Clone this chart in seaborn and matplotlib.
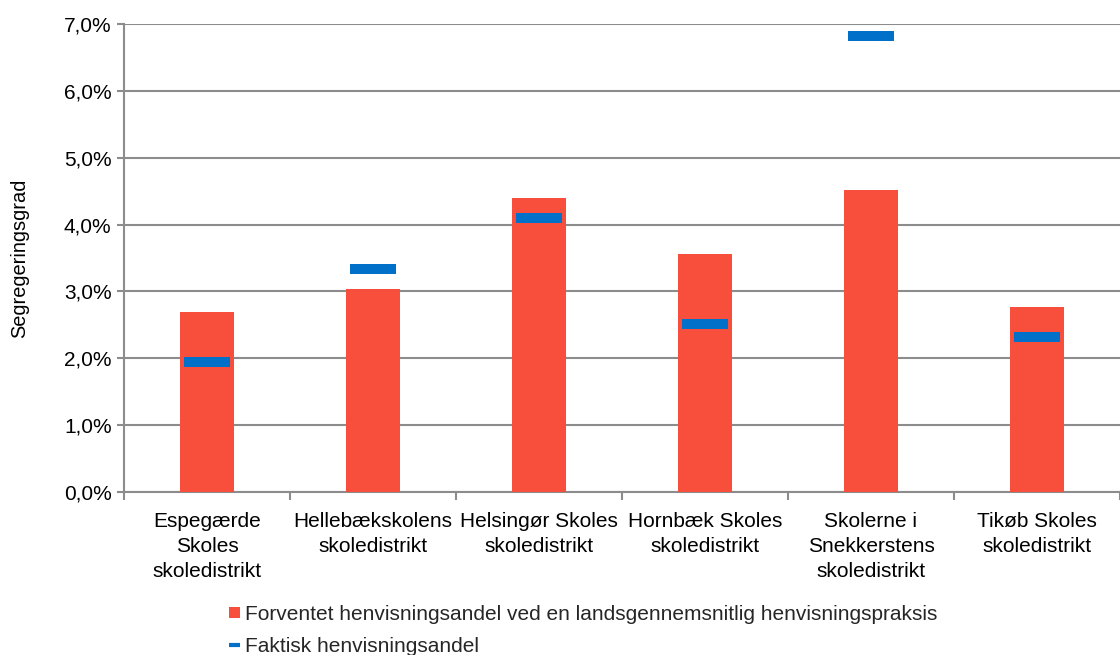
import matplotlib
matplotlib.use("Agg")
import matplotlib.pyplot as plt
import seaborn as sns
import pandas as pd
import numpy as np
from matplotlib.ticker import FuncFormatter, FixedLocator
from matplotlib.patches import Patch
from matplotlib.lines import Line2D

categories = [
    "Espegærde\nSkoles\nskoledistrikt",
    "Hellebækskolens\nskoledistrikt",
    "Helsingør Skoles\nskoledistrikt",
    "Hornbæk Skoles\nskoledistrikt",
    "Skolerne i\nSnekkerstens\nskoledistrikt",
    "Tikøb Skoles\nskoledistrikt",
]
forventet = [2.69, 3.04, 4.39, 3.56, 4.52, 2.77]
faktisk = [1.94, 3.34, 4.10, 2.52, 6.82, 2.32]
series_names = [
    "Forventet henvisningsandel ved en landsgennemsnitlig henvisningspraksis",
    "Faktisk henvisningsandel",
]

sns.set_theme(style="white")
plt.rcParams["font.family"] = ["Liberation Sans", "DejaVu Sans"]

df = pd.DataFrame({"cat": categories, "forventet": forventet, "faktisk": faktisk})

fig = plt.figure(figsize=(11.2, 6.55), dpi=100)
ax = fig.add_axes([124 / 1120, 1 - 492 / 655, 996 / 1120, 468 / 655])

red = "#F84E3C"
blue = "#0070C8"
grid_c = "#8C8C8C"
fs = 15

sns.barplot(data=df, x="cat", y="forventet", color=red, width=0.32,
            saturation=1, ax=ax, zorder=3, edgecolor="none")

verts = [(-0.5, -0.107), (0.5, -0.107), (0.5, 0.107), (-0.5, 0.107)]
sns.scatterplot(data=df, x="cat", y="faktisk", marker=verts, s=1144,
                color=blue, linewidth=0, ax=ax, zorder=4)

ax.set_ylim(0, 7)
ax.set_xlim(-0.5, 5.5)
ax.yaxis.set_major_locator(FixedLocator(np.arange(0, 7.01, 1)))
ax.yaxis.set_major_formatter(FuncFormatter(lambda v, p: f"{v:.1f}%".replace(".", ",")))
ax.grid(axis="y", color=grid_c, linewidth=1.5, zorder=0)
ax.set_axisbelow(True)

for s in ["top", "right"]:
    ax.spines[s].set_visible(False)
for s in ["left", "bottom"]:
    ax.spines[s].set_color(grid_c)
    ax.spines[s].set_linewidth(1.5)

ax.set_xticks(np.arange(-0.5, 6, 1), minor=True)
ax.tick_params(axis="x", which="minor", length=6, width=1.5, color=grid_c, direction="out", bottom=True)
ax.tick_params(axis="x", which="major", length=0, pad=14.5, labelsize=fs, labelcolor="black")
ax.tick_params(axis="y", which="major", length=5, width=1.5, color=grid_c, direction="out", left=True,
               labelsize=fs, labelcolor="black", pad=4)
for lbl in ax.get_xticklabels():
    lbl.set_multialignment("center")
    lbl.set_linespacing(1.4)

ax.set_xlabel("")
ax.set_ylabel("Segregeringsgrad", fontsize=14.4, color="black")
ax.yaxis.set_label_coords(-0.0954, 0.5)

handles = [
    Patch(facecolor=red, edgecolor="none"),
    Line2D([0], [0], color=blue, linewidth=3, solid_capstyle="butt"),
]
leg = fig.legend(handles, series_names, loc="upper left", bbox_to_anchor=(229 / 1120, 1 - 605 / 655),
                 frameon=False, fontsize=fs, handlelength=0.53, handleheight=0.48,
                 handletextpad=0.22, labelspacing=0.62, borderaxespad=0, borderpad=0)

fig.savefig("out.png", dpi=100)
